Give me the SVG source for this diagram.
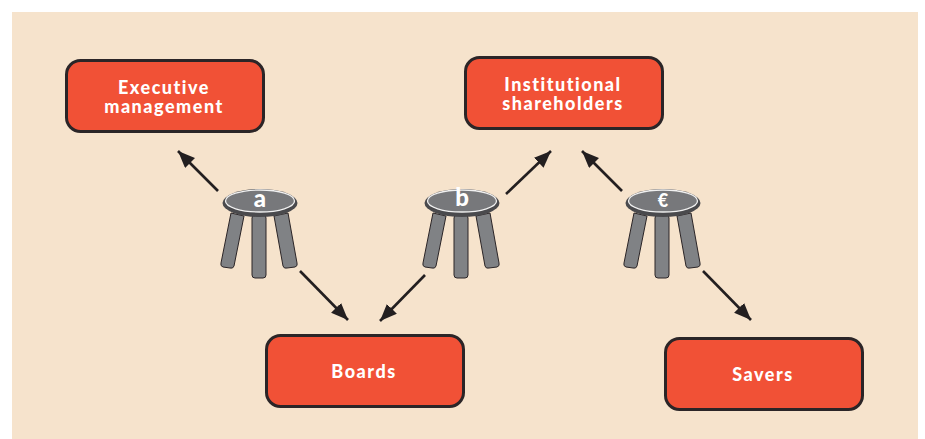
<svg xmlns="http://www.w3.org/2000/svg" xmlns:xlink="http://www.w3.org/1999/xlink" width="925" height="439" viewBox="0 0 925 439">
<style>
.box{fill:#f15136;stroke:#2b2527;stroke-width:3}
.lbl{font-family:Lato,"Liberation Sans",sans-serif;font-weight:900;font-size:18px;letter-spacing:1.5px;fill:#fff;text-anchor:middle}
.arr{fill:none;stroke:#231f20;stroke-width:2.6;marker-end:url(#ah)}
.leg{fill:#808285;stroke:#2b2527;stroke-width:1}
.base{fill:#4a4a4d}
.seat{fill:#77787b;stroke:#f1f1f1;stroke-width:1.3}
.ltr{font-family:Lato,"Liberation Sans",sans-serif;font-weight:900;font-size:24px;fill:#fff;text-anchor:middle}
</style>
<defs>
<marker id="ah" markerUnits="userSpaceOnUse" markerWidth="18" markerHeight="16" refX="17" refY="7" orient="auto"><path d="M0 0L17 7L0 14z" fill="#231f20"/></marker>
<g id="stool">
<path class="leg" d="M-29 12L-16 15L-26 65Q-27 68-30 67L-37 66Q-40 65-39 62z"/>
<rect class="leg" x="-8" y="14" width="14" height="63" rx="3"/>
<path class="leg" d="M14 15L28 12L37 62Q38 65 35 66L27 67Q24 68 23 65z"/>
<ellipse class="base" cx="0" cy="2" rx="37.500" ry="14"/>
<ellipse class="seat" cx="0" cy="0" rx="34.500" ry="11"/>
</g>
</defs>
<rect x="12" y="12" width="906" height="427" fill="#f6e3cc"/>
<g id="connectors">
<line class="arr" x1="218" y1="191" x2="178" y2="151"/>
<line class="arr" x1="300" y1="271" x2="348" y2="320"/>
<line class="arr" x1="506" y1="194" x2="551" y2="151"/>
<line class="arr" x1="425" y1="275" x2="380" y2="321"/>
<line class="arr" x1="622" y1="191" x2="582" y2="151"/>
<line class="arr" x1="703" y1="271" x2="751" y2="320"/>
</g>
<g id="node-executive"><rect class="box" x="66.500" y="60.500" width="197" height="71" rx="14"/><text class="lbl" x="164" y="94">Executive</text><text class="lbl" x="164" y="113">management</text></g>
<g id="node-institutional"><rect class="box" x="465.500" y="57.500" width="197" height="71" rx="14"/><text class="lbl" x="563" y="91">Institutional</text><text class="lbl" x="563" y="110">shareholders</text></g>
<g id="node-boards"><rect class="box" x="266.500" y="335.500" width="197" height="71" rx="14"/><text class="lbl" x="364" y="378">Boards</text></g>
<g id="node-savers"><rect class="box" x="665.500" y="338.500" width="197" height="71" rx="14"/><text class="lbl" x="763" y="381">Savers</text></g>
<g id="stool-a"><use xlink:href="#stool" x="260" y="201"/><text class="ltr" x="260" y="207">a</text></g>
<g id="stool-b"><use xlink:href="#stool" x="462" y="201"/><text class="ltr" x="462" y="206">b</text></g>
<g id="stool-c"><use xlink:href="#stool" x="663" y="201"/><text class="ltr" x="663" y="206.500" style="font-size:18px">€</text></g>
</svg>
